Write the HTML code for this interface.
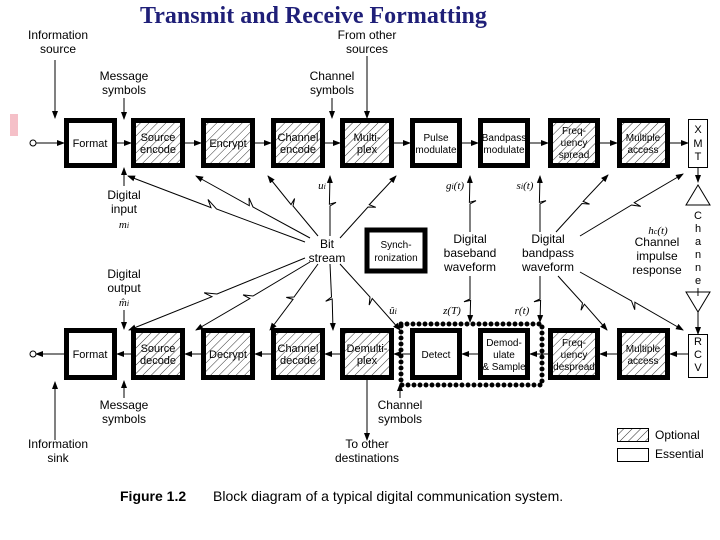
<!DOCTYPE html>
<html><head><meta charset="utf-8"><style>
body{margin:0;background:#fff}
svg{display:block;font-family:"Liberation Sans",sans-serif}
</style></head><body>
<svg id="s" width="720" height="540" viewBox="0 0 720 540" xmlns="http://www.w3.org/2000/svg">
<defs>
<pattern id="h" width="6" height="6" patternUnits="userSpaceOnUse" patternTransform="rotate(45)">
<rect width="6" height="6" fill="#fff"/><line x1="0" y1="0" x2="0" y2="6" stroke="#000" stroke-width="0.8"/></pattern>
<marker id="a" markerWidth="8" markerHeight="8" refX="7" refY="4" orient="auto" markerUnits="userSpaceOnUse"><path d="M0,1 L8,4 L0,7 z" fill="#000"/></marker>
</defs>
<rect x="10" y="114" width="8" height="22" fill="#f5c0c8"/>
<text x="140" y="23" font-family="Liberation Serif" font-size="24" font-weight="bold" fill="#1f1f78">Transmit and Receive Formatting</text>
<g id="g" stroke="#000" fill="none"></g>
<g font-size="11" text-anchor="middle" fill="#000">
<text x="58" y="39" font-size="12">Information</text><text x="58" y="53" font-size="12">source</text>
<text x="124" y="80" font-size="12">Message</text><text x="124" y="94" font-size="12">symbols</text>
<text x="367" y="39" font-size="12">From other</text><text x="367" y="53" font-size="12">sources</text>
<text x="332" y="80" font-size="12">Channel</text><text x="332" y="94" font-size="12">symbols</text>
<text x="90" y="147">Format</text>
<text x="158" y="141">Source</text><text x="158" y="153">encode</text>
<text x="228" y="147">Encrypt</text>
<text x="298" y="141">Channel</text><text x="298" y="153">encode</text>
<text x="367" y="141">Multi-</text><text x="367" y="153">plex</text>
<text x="436" y="141" font-size="10">Pulse</text><text x="436" y="153" font-size="10">modulate</text>
<text x="504" y="141" font-size="10">Bandpass</text><text x="504" y="153" font-size="10">modulate</text>
<text x="574" y="134" font-size="10">Freq-</text><text x="574" y="146" font-size="10">uency</text><text x="574" y="158" font-size="10">spread</text>
<text x="643" y="141" font-size="10">Multiple</text><text x="643" y="153" font-size="10">access</text>
<text x="698" y="133">X</text><text x="698" y="147">M</text><text x="698" y="160">T</text>
<text x="698" y="219">C</text><text x="698" y="232">h</text><text x="698" y="245">a</text><text x="698" y="258">n</text><text x="698" y="271">n</text><text x="698" y="284">e</text><text x="698" y="296">l</text>
<text x="124" y="199" font-size="12">Digital</text><text x="124" y="213" font-size="12">input</text><text x="124" y="228" font-family="Liberation Serif" font-style="italic">m<tspan font-size="8">i</tspan></text>
<text x="124" y="278" font-size="12">Digital</text><text x="124" y="292" font-size="12">output</text><text x="124" y="306" font-family="Liberation Serif" font-style="italic">m̂<tspan font-size="8">i</tspan></text>
<text x="327" y="248" font-size="12">Bit</text><text x="327" y="262" font-size="12">stream</text>
<text x="396" y="248" font-size="10">Synch-</text><text x="396" y="261" font-size="10">ronization</text>
<text x="470" y="243" font-size="12">Digital</text><text x="470" y="257" font-size="12">baseband</text><text x="470" y="271" font-size="12">waveform</text>
<text x="548" y="243" font-size="12">Digital</text><text x="548" y="257" font-size="12">bandpass</text><text x="548" y="271" font-size="12">waveform</text>
<text x="658" y="234" font-family="Liberation Serif" font-style="italic">h<tspan font-size="8">c</tspan>(t)</text>
<text x="657" y="246" font-size="12">Channel</text><text x="657" y="260" font-size="12">impulse</text><text x="657" y="274" font-size="12">response</text>
<text x="322" y="189" font-family="Liberation Serif" font-style="italic">u<tspan font-size="8">i</tspan></text>
<text x="455" y="189" font-family="Liberation Serif" font-style="italic">g<tspan font-size="8">i</tspan>(t)</text>
<text x="525" y="189" font-family="Liberation Serif" font-style="italic">s<tspan font-size="8">i</tspan>(t)</text>
<text x="393" y="314" font-family="Liberation Serif" font-style="italic">û<tspan font-size="8">i</tspan></text>
<text x="452" y="314" font-family="Liberation Serif" font-style="italic">z(T)</text>
<text x="522" y="314" font-family="Liberation Serif" font-style="italic">r(t)</text>
<text x="90" y="358">Format</text>
<text x="158" y="352">Source</text><text x="158" y="364">decode</text>
<text x="228" y="358">Decrypt</text>
<text x="298" y="352">Channel</text><text x="298" y="364">decode</text>
<text x="367" y="352">Demulti-</text><text x="367" y="364">plex</text>
<text x="436" y="358" font-size="10">Detect</text>
<text x="504" y="346" font-size="10">Demod-</text><text x="504" y="358" font-size="10">ulate</text><text x="504" y="370" font-size="10">&amp; Sample</text>
<text x="574" y="346" font-size="10">Freq-</text><text x="574" y="358" font-size="10">uency</text><text x="574" y="370" font-size="10">despread</text>
<text x="643" y="352" font-size="10">Multiple</text><text x="643" y="364" font-size="10">access</text>
<text x="698" y="345">R</text><text x="698" y="358">C</text><text x="698" y="371">V</text>
<text x="124" y="409" font-size="12">Message</text><text x="124" y="423" font-size="12">symbols</text>
<text x="58" y="448" font-size="12">Information</text><text x="58" y="462" font-size="12">sink</text>
<text x="400" y="409" font-size="12">Channel</text><text x="400" y="423" font-size="12">symbols</text>
<text x="367" y="448" font-size="12">To other</text><text x="367" y="462" font-size="12">destinations</text>
</g>
<text x="655" y="439" font-size="12">Optional</text>
<text x="655" y="458" font-size="12">Essential</text>
<text x="120" y="501" font-size="14" font-weight="bold">Figure 1.2</text>
<text x="213" y="501" font-size="14">Block diagram of a typical digital communication system.</text>
<script>
(function(){
var g=document.getElementById('g'),NS='http://www.w3.org/2000/svg';
function el(t,a){var e=document.createElementNS(NS,t);for(var k in a)e.setAttribute(k,a[k]);g.appendChild(e);return e;}
var tp=[[64,117,0],[131,185,1],[201,255,1],[271,325,1],[340,394,1],[410,462,0],[478,530,0],[548,600,1],[617,670,1]];
tp.forEach(function(b){el('rect',{x:b[0]+2.5,y:120.5,width:b[1]-b[0]-5,height:45,fill:b[2]?'url(#h)':'#fff','stroke-width':5});});
tp.forEach(function(b){el('rect',{x:b[0]+2.5,y:330.5,width:b[1]-b[0]-5,height:47,fill:b[2]?'url(#h)':'#fff','stroke-width':5});});
el('rect',{x:688.5,y:119.5,width:19,height:48,fill:'#fff'});
el('rect',{x:688.5,y:334.5,width:19,height:43,fill:'#fff'});
el('rect',{x:367,y:230,width:58,height:41,'stroke-width':5,fill:'#fff'});
el('rect',{x:401,y:324,width:141,height:61,'stroke-width':5,'stroke-dasharray':'0 6','stroke-linecap':'round'});
el('rect',{x:617.5,y:428.5,width:31,height:13,fill:'url(#h)'});
el('rect',{x:617.5,y:448.5,width:31,height:13,fill:'#fff'});
function ar(x1,y1,x2,y2){el('line',{x1:x1,y1:y1,x2:x2,y2:y2,'marker-end':'url(#a)'});}
el('circle',{cx:33,cy:143,r:3,fill:'#fff'});ar(36,143,64,143);
for(var i=0;i<8;i++)ar(tp[i][1],143,tp[i+1][0],143);
ar(670,143,688,143);ar(698,168,698,182);
el('path',{d:'M698,185 L686,205 L710,205 Z'});el('path',{d:'M686,292 L710,292 L698,312 Z'});
ar(698,312,698,334);
el('circle',{cx:33,cy:354,r:3,fill:'#fff'});ar(64,354,36,354);
for(var i=0;i<8;i++)ar(tp[i+1][0],354,tp[i][1],354);
ar(688,354,670,354);
ar(55,60,55,118);ar(124,98,124,119);ar(367,56,367,118);ar(332,98,332,118);
ar(124,186,124,168);
ar(55,440,55,382);ar(124,398,124,381);ar(400,398,400,384);ar(367,380,367,440);ar(124,310,124,329);
function zz(x1,y1,x2,y2){var dx=x2-x1,dy=y2-y1,L=Math.hypot(dx,dy),nx=-dy/L*6,ny=dx/L*6;
var m1x=x1+dx*.5,m1y=y1+dy*.5,m2x=x1+dx*.56+nx,m2y=y1+dy*.56+ny,m3x=x1+dx*.53-nx*0.1,m3y=y1+dy*.53-ny*0.1;
el('polyline',{points:x1+','+y1+' '+m1x+','+m1y+' '+m2x+','+m2y+' '+m3x+','+m3y+' '+x2+','+y2,'marker-end':'url(#a)'});}
zz(305,242,128,176);zz(310,238,196,176);zz(318,236,268,176);zz(340,238,396,176);zz(330,236,330,176);
zz(305,258,129,330);zz(310,262,196,330);zz(318,264,270,330);zz(330,264,333,330);zz(340,264,400,330);
zz(470,232,470,176);zz(540,232,540,176);zz(556,232,608,175);zz(580,236,683,174);
zz(470,276,470,322);zz(540,276,540,322);zz(558,276,607,330);zz(580,272,683,330);
})();
</script>
</svg>
</body></html>
